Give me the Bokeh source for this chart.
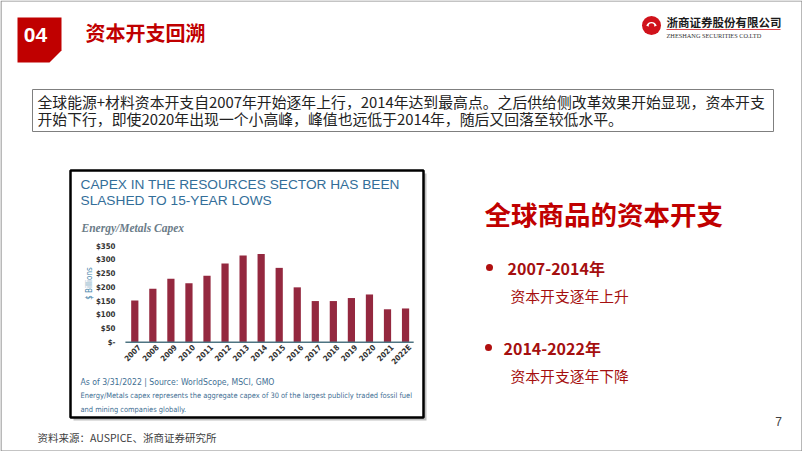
import math
from bokeh.plotting import figure
from bokeh.models import Range1d
from bokeh.core.properties import value
from bokeh.embed import file_html
from bokeh.resources import INLINE

# ---------------- data ----------------
years = ["2007", "2008", "2009", "2010", "2011", "2012", "2013", "2014",
         "2015", "2016", "2017", "2018", "2019", "2020", "2021", "2022E"]
capex = [152, 195, 231, 215, 242, 287, 316, 322, 271, 200, 150, 150, 161, 174, 120, 123]
y_ticks = [0, 50, 100, 150, 200, 250, 300, 350]
y_tick_labels = ["$-", "$50", "$100", "$150", "$200", "$250", "$300", "$350"]

chart_title = ["CAPEX IN THE RESOURCES SECTOR HAS BEEN", "SLASHED TO 15-YEAR LOWS"]
chart_subtitle = "Energy/Metals Capex"
chart_notes = ["As of 3/31/2022 | Source: WorldScope, MSCI, GMO",
               "Energy/Metals capex represents the aggregate capex of 30 of the largest publicly traded fossil fuel",
               "and mining companies globally."]
intro_lines = ["全球能源+材料资本开支自2007年开始逐年上行，2014年达到最高点。之后供给侧改革效果开始显现，资本开支",
               "开始下行，即使2020年出现一个小高峰，峰值也远低于2014年，随后又回落至较低水平。"]
side_title = "全球商品的资本开支"
bullets = ["2007-2014年", "2014-2022年"]
bullet_desc = ["资本开支逐年上升", "资本开支逐年下降"]

# ---------------- figure (page pixel coordinates) ----------------
W, H = 802, 451
p = figure(width=W, height=H, x_range=Range1d(0, W), y_range=Range1d(H, 0),
           output_backend="svg", toolbar_location=None, min_border=0,
           x_axis_location=None, y_axis_location=None, outline_line_color=None,
           background_fill_color="white", border_fill_color="white")
p.grid.visible = False

# scales for the embedded bar chart
pitch = 18.05          # px per category
first_px = 134.3       # px of the first bar centre
zero_px = 341.7        # px of $0
px_per_unit = 96.0 / 350.0
p.extra_x_ranges = {"yr": Range1d((0 - first_px) / pitch, (W - first_px) / pitch)}
p.extra_y_ranges = {"usd": Range1d(-(H - zero_px) / px_per_unit, (zero_px - 0) / px_per_unit)}

CJK = "Noto Sans CJK SC"
NARROW = "DejaVu Sans Condensed, Liberation Sans, sans-serif"


def txt(x, y, s, size, color, font=CJK, style="normal", align="left",
        baseline="middle", angle=0.0, **kw):
    p.text(x=[x], y=[y], text=[s], text_font=value(font), text_font_size=size,
           text_color=color, text_font_style=style, text_align=align,
           text_baseline=baseline, angle=angle, **kw)


# slide border
p.quad(left=[0.5], right=[801.5], top=[0.5], bottom=[450.5], fill_color=None,
       line_color="#8a8a8a", line_width=1.2)

# ---------------- header ----------------
p.patch(x=[17, 61, 61, 49, 17], y=[17, 17, 50, 62, 62], fill_color="#c00000", line_color=None)
txt(35, 34, "04", "21px", "white", font="Liberation Sans", style="bold", align="center")
txt(85, 32, "资本开支回溯", "20px", "#c00000", style="bold")

# logo
p.circle(x=[651], y=[25], radius=9.5, fill_color="#d0121b", line_color=None)
p.wedge(x=[651], y=[27], radius=5.5, start_angle=math.pi * 0.1, end_angle=math.pi * 0.9,
        fill_color="white", line_color=None)
p.circle(x=[651], y=[25.5], radius=2.8, fill_color="#d0121b", line_color=None)
txt(666, 21, "浙商证券股份有限公司", "11.5px", "#1a1a1a", style="bold")
p.segment(x0=[666], y0=[29], x1=[780], y1=[29], line_color="#d0121b", line_width=0.8)
txt(666, 34.5, "ZHESHANG SECURITIES CO.LTD", "6.3px", "#333333", font="Liberation Serif")

# ---------------- intro text box ----------------
p.quad(left=[32], right=[773], top=[89], bottom=[131], fill_color=None,
       line_color="#7f7f7f", line_width=1)
txt(37, 101, intro_lines[0], "14.85px", "#222222")
txt(37, 118, intro_lines[1], "14.85px", "#222222")

# ---------------- embedded chart frame ----------------
p.quad(left=[73], right=[426], top=[173], bottom=[420], fill_color="#8c8c8c",
       fill_alpha=0.55, line_color=None)
p.quad(left=[70], right=[423], top=[170], bottom=[417], fill_color="white",
       line_color="black", line_width=2.5)

txt(80, 184, chart_title[0], "13.7px", "#336e99", font="Liberation Sans")
txt(80, 200, chart_title[1], "13.7px", "#336e99", font="Liberation Sans")
txt(81, 227.5, chart_subtitle, "11.5px", "#6b7c88", font="Liberation Serif", style="bold italic")

# bars
idx = list(range(len(years)))
p.vbar(x=idx, top=capex, bottom=0, width=0.4, fill_color="#94283f", line_color=None,
       x_range_name="yr", y_range_name="usd")
# axis line
p.segment(x0=[-0.52], y0=[0], x1=[len(years) - 0.55], y1=[0], line_color="#4e7482",
          line_width=1.5, x_range_name="yr", y_range_name="usd")
# y tick labels
p.text(x=[-1.07] * len(y_ticks), y=y_ticks, text=y_tick_labels,
       text_font=value(NARROW), text_font_size="7.8px",
       text_font_style="bold", text_color="#333333", text_align="right",
       text_baseline="middle", x_range_name="yr", y_range_name="usd")
# x tick labels
p.text(x=[i + 0.25 for i in idx], y=[-14] * len(years), text=years,
       text_font=value(NARROW), text_font_size="7.8px",
       text_font_style="bold", text_color="#333333", text_align="right",
       text_baseline="middle", angle=math.pi / 4, x_range_name="yr", y_range_name="usd")
# y axis title
txt(88.5, 283, "$ Billions", "8px", "#4a88ad", font=NARROW,
    align="center", angle=math.pi / 2)

txt(80, 381.5, chart_notes[0], "8.6px", "#3f6f94", font=NARROW)
txt(80, 395, chart_notes[1], "7.45px", "#3f6f94", font=NARROW)
txt(80, 409, chart_notes[2], "7.45px", "#3f6f94", font=NARROW)

# ---------------- right side ----------------
txt(484, 213, side_title, "26.5px", "#c00000", style="bold")
p.scatter(x=[489, 488], y=[267, 347], size=7, fill_color="#b00f0f", line_color=None)
txt(507, 267, bullets[0], "16px", "#a50f0f", style="bold")
txt(503, 347, bullets[1], "16px", "#a50f0f", style="bold")
txt(510, 295, bullet_desc[0], "14.8px", "#a50f0f")
txt(510, 375, bullet_desc[1], "14.8px", "#a50f0f")

# ---------------- footer ----------------
txt(37, 437, "资料来源：AUSPICE、浙商证券研究所", "10.5px", "#404040")
txt(778, 421, "7", "12px", "#404040", font="Liberation Sans", align="center")

open("out.html", "w").write(file_html(p, INLINE))
